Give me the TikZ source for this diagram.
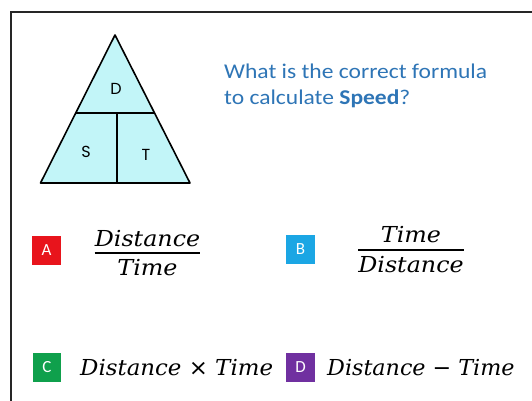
\documentclass[tikz,border=0pt]{standalone}
\usepackage{fontspec}
\usepackage{graphicx}
\setmainfont{Carlito}
\newfontfamily\myserif{DejaVu Serif}
\newfontfamily\mysans{DejaVu Sans}
\newfontfamily\comic{Poppins}
\definecolor{qblue}{HTML}{2E75B6}
\definecolor{tri}{HTML}{C2F5F8}
\definecolor{abox}{HTML}{E8141C}
\definecolor{bbox}{HTML}{1BA6E4}
\definecolor{cbox}{HTML}{0FA04C}
\definecolor{dbox}{HTML}{7030A0}
\newcommand{\mx}[1]{\scalebox{1.08}[1]{#1}}
\begin{document}
\begin{tikzpicture}[x=1pt,y=-1pt,
  letterbox/.style={minimum width=28.5pt,minimum height=29pt,inner sep=0pt,text=white,font=\fontsize{17}{17}\selectfont},
  triline/.style={line width=1.6pt,line join=round},
  trilabel/.style={font=\comic\fontsize{16}{16}\selectfont},
  qtext/.style={anchor=base west,text=qblue,font=\fontsize{21}{21}\selectfont,inner sep=0pt},
  mtext/.style={font=\myserif\itshape\fontsize{22}{22}\selectfont,inner sep=0pt,anchor=base},
  fbar/.style={line width=1.3pt}]
\useasboundingbox (0,0) rectangle (532,401);
\fill[white] (0,0) rectangle (532,401);
% frame
\draw[line width=2pt,black!85] (10.5,401) -- (10.5,12) -- (532,12);
% triangle
\coordinate (apex) at (115,35);
\coordinate (bl) at (40.5,183);
\coordinate (br) at (190,183);
\coordinate (ml) at (75,113);
\coordinate (mr) at (154.5,113);
\coordinate (mt) at (117,113);
\coordinate (mb) at (117,183);
\filldraw[triline,fill=tri] (apex) -- (br) -- (bl) -- cycle;
\draw[triline] (ml) -- (mr);
\draw[triline] (mt) -- (mb);
\node[trilabel] (d) at (116,89) {D};
\node[trilabel] (s) at (86,152) {S};
\node[trilabel] (t) at (146,155) {T};
% question
\node[qtext] (q1) at (224,79) {\scalebox{1.12}[1]{What is the correct formula}};
\node[qtext] (q2) at (224,105) {\scalebox{1.12}[1]{to calculate \textbf{Speed}?}};
% options
\node[letterbox,fill=abox] (A) at (46.5,250) {A};
\node[letterbox,fill=bbox] (B) at (300.5,249) {B};
\node[letterbox,fill=cbox] (C) at (47,367) {C};
\node[letterbox,fill=dbox] (D) at (300.5,367) {D};
% fractions
\node[mtext] (an) at (147.5,246) {\mx{Distance}};
\node[mtext] (ad) at (147.5,275) {\mx{Time}};
\draw[fbar] (an.south west |- 0,253) coordinate (a1) -- (an.south east |- 0,253) coordinate (a2);
\node[mtext] (bn) at (411,242) {\mx{Time}};
\node[mtext] (bd) at (411,272) {\mx{Distance}};
\draw[fbar] (bd.north west |- 0,250) coordinate (b1) -- (bd.north east |- 0,250) coordinate (b2);
\node[mtext,anchor=base west] (ct) at (80,375) {\scalebox{1.04}[1]{Distance {\upshape\mysans ×} Time}};
\node[mtext,anchor=base west] (dt) at (327,375) {\scalebox{1.01}[1]{Distance {\upshape\mysans −} Time}};
\end{tikzpicture}
\end{document}
